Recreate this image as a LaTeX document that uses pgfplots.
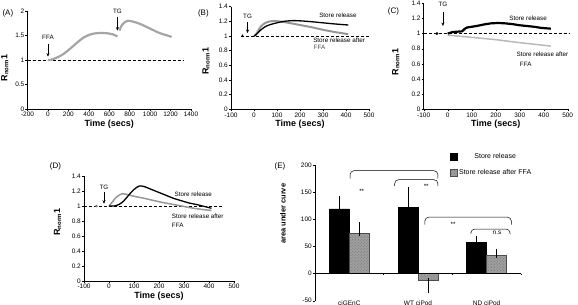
\documentclass[border=0pt]{standalone}
\usepackage{fontspec}
\setmainfont{Liberation Sans}
\usepackage{pgfplots}
\pgfplotsset{compat=1.18}
\usetikzlibrary{arrows.meta,patterns}
\definecolor{gA}{RGB}{165,165,165}
\definecolor{gB}{RGB}{150,150,150}
\definecolor{gC}{RGB}{185,185,185}
\newcommand{\tk}{\fontsize{6.5}{7}\selectfont}
\newcommand{\an}{\fontsize{6.3}{7}\selectfont}
\tikzset{
  refdash/.style={black, line width=0.5pt, dash pattern=on 3bp off 2bp},
  arr/.style={black, line width=0.5pt, -{Stealth[length=3.5bp,width=3bp]}},
}
\pgfplotsset{
  panel/.style={
    scale only axis, anchor=south west, axis lines*=left, clip=false,
    tick align=outside, major tick length=2bp,
    tick style={black, line width=0.4pt},
    axis line style={line width=0.5pt, -},
    /pgf/number format/assume math mode=true,
    /pgf/number format/1000 sep={},
    ticklabel style={font=\tk, inner sep=1bp},
    yticklabel style={/pgf/number format/.cd, fixed, precision=1},
    xlabel style={font=\bfseries\fontsize{9}{10}\selectfont, inner sep=2bp},
    xlabel={Time (secs)},
    ylabel={R\textsubscript{norm}1},
  },
  ylab/.style 2 args={every axis y label/.style={at={(axis description cs:#1,#2)}, rotate=90, anchor=center, font=\bfseries\fontsize{9}{10}\selectfont}},
}
\begin{document}
\begin{tikzpicture}
\useasboundingbox (0,0) rectangle (578bp,305bp);
% ---------------- (A)
\begin{axis}[panel, ylab={-0.138}{0.42}, at={(27.5bp,196bp)}, width=163.5bp, height=98bp,
  xmin=-200, xmax=1400, ymin=0, ymax=2,
  xtick={-200,0,...,1400}, ytick={0,0.5,...,2}]
\addplot[refdash, forget plot] coordinates {(-200,1) (1330,1)};
\addplot[gA, line width=2.2bp, smooth] coordinates {(0,1.0)(25,1.0)(50,1.02)(100,1.06)(150,1.12)(200,1.2)(250,1.29)(300,1.38)(350,1.46)(400,1.51)(450,1.54)(500,1.55)(550,1.55)(600,1.54)(640,1.52)(680,1.48)};
\addplot[gA, line width=2.2bp, smooth] coordinates {(700,1.6)(720,1.7)(750,1.77)(780,1.8)(820,1.79)(870,1.76)(920,1.72)(970,1.67)(1020,1.62)(1070,1.57)(1120,1.53)(1170,1.5)(1210,1.47)};
\draw[arr] (axis cs:0,1.33) -- (axis cs:0,1.07);
\node[font=\an] at (axis cs:0,1.47) {FFA};
\draw[arr] (axis cs:680,1.87) -- (axis cs:680,1.6);
\node[font=\an] at (axis cs:680,1.99) {TG};
\node[font=\fontsize{8}{9}\selectfont] at (axis description cs:-0.12,0.98) {(A)};
\end{axis}
% ---------------- (B)
\begin{axis}[panel, ylab={-0.181}{0.47}, at={(231bp,195.7bp)}, width=138bp, height=102.6bp,
  xmin=-100, xmax=500, ymin=0, ymax=1.4,
  xtick={-100,0,...,500}, ytick={0,0.2,...,1.4}]
\addplot[refdash, forget plot] coordinates {(-55,1) (500,1)};
\addplot[black, mark=triangle*, mark size=1.3bp, only marks] coordinates {(-50,1.0)};
\addplot[gB, line width=2bp, smooth] coordinates {(0,1.0)(10,1.03)(30,1.13)(50,1.18)(70,1.2)(90,1.205)(120,1.195)(150,1.18)(200,1.15)(250,1.12)(300,1.085)(350,1.055)(410,1.025)};
\addplot[black, line width=1.3bp, smooth] coordinates {(0,1.0)(10,1.02)(25,1.07)(50,1.13)(75,1.16)(100,1.18)(130,1.2)(170,1.21)(210,1.205)(250,1.195)(300,1.18)(350,1.165)(410,1.15)};
\draw[arr] (axis cs:-28,1.19) -- (axis cs:-28,1.04);
\node[font=\an] at (axis cs:-28,1.27) {TG};
\node[font=\an] at (axis cs:365,1.28) {Store release};
\node[font=\an] at (axis cs:370,0.94) {Store release after};
\node[font=\an, text=black!70] at (axis cs:285,0.85) {FFA};
\node[font=\fontsize{8}{9}\selectfont] at (axis description cs:-0.2,0.93) {(B)};
\end{axis}
% ---------------- (C)
\begin{axis}[panel, ylab={-0.194}{0.446}, at={(423.7bp,195.7bp)}, width=144bp, height=106bp,
  xmin=-100, xmax=500, ymin=0, ymax=1.4,
  xtick={-100,0,...,500}, ytick={0,0.2,...,1.4}]
\addplot[refdash, forget plot] coordinates {(-100,1) (505,1)};
\addplot[black, mark=*, mark size=1.2bp, only marks] coordinates {(-45,1.0)};
\addplot[gC, line width=1.5bp] coordinates {(0,0.98)(100,0.95)(200,0.92)(300,0.88)(430,0.835)};
\addplot[black, line width=2.2bp] coordinates {(0,1.0)(10,1.01)(20,1.02)(40,1.025)(60,1.03)(70,1.06)(80,1.08)(100,1.09)(120,1.1)(150,1.12)(180,1.135)(210,1.14)(240,1.135)(270,1.125)(300,1.11)(330,1.1)(360,1.09)(390,1.075)(430,1.065)};
\draw[arr] (axis cs:-20,1.29) -- (axis cs:-20,1.1);
\node[font=\an] at (axis cs:-20,1.39) {TG};
\node[font=\an] at (axis cs:335,1.2) {Store release};
\node[font=\an] at (axis cs:395,0.73) {Store release after};
\node[font=\an] at (axis cs:325,0.6) {FFA};
\node[font=\fontsize{8}{9}\selectfont] at (axis description cs:-0.21,0.92) {(C)};
\end{axis}
% ---------------- (D)
\begin{axis}[panel, ylab={-0.177}{0.56}, at={(84bp,24bp)}, width=150bp, height=105bp,
  xmin=-100, xmax=500, ymin=0, ymax=1.4,
  xtick={-100,0,...,500}, ytick={0,0.2,...,1.4}]
\addplot[refdash, forget plot] coordinates {(-100,1) (460,1)};
\addplot[gray, mark=*, mark size=1.1bp, only marks] coordinates {(-50,1.0)};
\addplot[gB, line width=1.5bp, smooth] coordinates {(0,1.0)(15,1.06)(30,1.12)(50,1.16)(70,1.155)(100,1.13)(130,1.11)(170,1.08)(210,1.05)(250,1.025)(290,1.0)(330,0.975)(370,0.955)(410,0.94)};
\addplot[black, line width=1.3bp, smooth] coordinates {(0,1.0)(20,1.0)(40,1.02)(60,1.07)(80,1.15)(100,1.22)(120,1.265)(140,1.26)(170,1.22)(200,1.18)(230,1.14)(260,1.1)(290,1.07)(320,1.04)(350,1.02)(380,0.995)(410,0.97)};
\draw[arr] (axis cs:-20,1.19) -- (axis cs:-20,1.03);
\node[font=\an] at (axis cs:-20,1.25) {TG};
\node[font=\an] at (axis cs:337,1.15) {Store release};
\node[font=\an] at (axis cs:355,0.86) {Store release after};
\node[font=\an] at (axis cs:275,0.74) {FFA};
\node[font=\fontsize{8}{9}\selectfont] at (axis description cs:-0.19,1.095) {(D)};
\end{axis}
% ---------------- (E)
\begin{axis}[scale only axis, anchor=south west, at={(315bp,4.3bp)}, width=206bp, height=135.7bp,
  clip=false, axis lines*=left,
  xmin=-0.5, xmax=2.5, ymin=-50, ymax=200, enlarge x limits=false,
  ytick={-50,0,...,200}, xtick={0,1,2}, xticklabels={ciGEnC, WT ciPod, ND ciPod},
  x axis line style={draw=none}, xtick style={draw=none},
  axis line style={line width=0.5pt, -},
  tick align=outside, major tick length=2bp, ytick style={black, line width=0.4pt},
  /pgf/number format/assume math mode=true,
  ticklabel style={font=\tk, inner sep=1bp},
  xticklabel style={anchor=center, yshift=0bp},
  ylabel={area under curve},
  every axis y label/.style={at={(axis description cs:-0.155,0.64)}, rotate=90, anchor=center,
    font=\bfseries\fontsize{7.5}{8}\selectfont},
  ybar=0pt, bar width=20bp,
  legend style={at={(axis description cs:0.655,1.1)}, anchor=north west, draw=none, fill=none,
    font=\fontsize{7}{8}\selectfont, row sep=5bp, inner sep=0pt},
  legend image code/.code={\draw[#1, bar shift=0pt] (0bp,-3.3bp) rectangle (6.6bp,3.3bp);},
]
\addplot[fill=black, draw=black, line width=0.4pt,
  error bars/.cd, y dir=both, y explicit,
  error bar style={black, line width=0.5pt}, error mark options={black, mark size=2.5bp, line width=0.5pt}]
  coordinates {(0,119) += (0,19) -= (0,0) (1,122.5) += (0,32.5) -= (0,0) (2,57.5) += (0,8) -= (0,0)};
\addlegendentry{Store release}
\addplot[fill=gray!75, draw=black!70, line width=0.4pt,
  postaction={pattern=crosshatch dots, pattern color=black!55},
  error bars/.cd, y dir=both, y explicit,
  error bar style={black, line width=0.5pt}, error mark options={black, mark size=2.5bp, line width=0.5pt}]
  coordinates {(0,74) += (0,16) -= (0,0) (1,-12.5) += (0,0) -= (0,19.5) (2,34) += (0,6) -= (0,0)};
\addlegendentry{Store release after FFA}
\draw[line width=0.5pt] (axis cs:-0.5,0) -- (axis cs:2.5,0);
\draw[line width=0.4pt] (axis cs:0.5,0) -- (axis cs:0.5,-3.5);
\draw[line width=0.4pt] (axis cs:1.5,0) -- (axis cs:1.5,-3.5);
\draw[line width=0.4pt] (axis cs:2.5,0) -- (axis cs:2.5,-3.5);
\draw[line width=0.5pt, rounded corners=4bp] (axis cs:0.01,175) -- (axis cs:0.01,189.5) -- (axis cs:1.29,189.5) -- (axis cs:1.29,175);
\draw[line width=0.5pt, rounded corners=4bp] (axis cs:0.66,161) -- (axis cs:0.66,173) -- (axis cs:1.29,173) -- (axis cs:1.29,161);
\draw[line width=0.5pt, rounded corners=4bp] (axis cs:1.1,90) -- (axis cs:1.1,104) -- (axis cs:2.36,104) -- (axis cs:2.36,90);
\draw[line width=0.5pt, rounded corners=4bp] (axis cs:1.77,73) -- (axis cs:1.77,82) -- (axis cs:2.34,82) -- (axis cs:2.34,73);
\node[font=\an] at (axis cs:0.18,152) {**};
\node[font=\an] at (axis cs:1.12,160) {**};
\node[font=\an] at (axis cs:1.51,91) {**};
\node[font=\tk] at (axis cs:2.15,76) {n.s};
\node[font=\fontsize{8}{9}\selectfont] at (axis description cs:-0.17,0.99) {(E)};
\end{axis}
\end{tikzpicture}
\end{document}
